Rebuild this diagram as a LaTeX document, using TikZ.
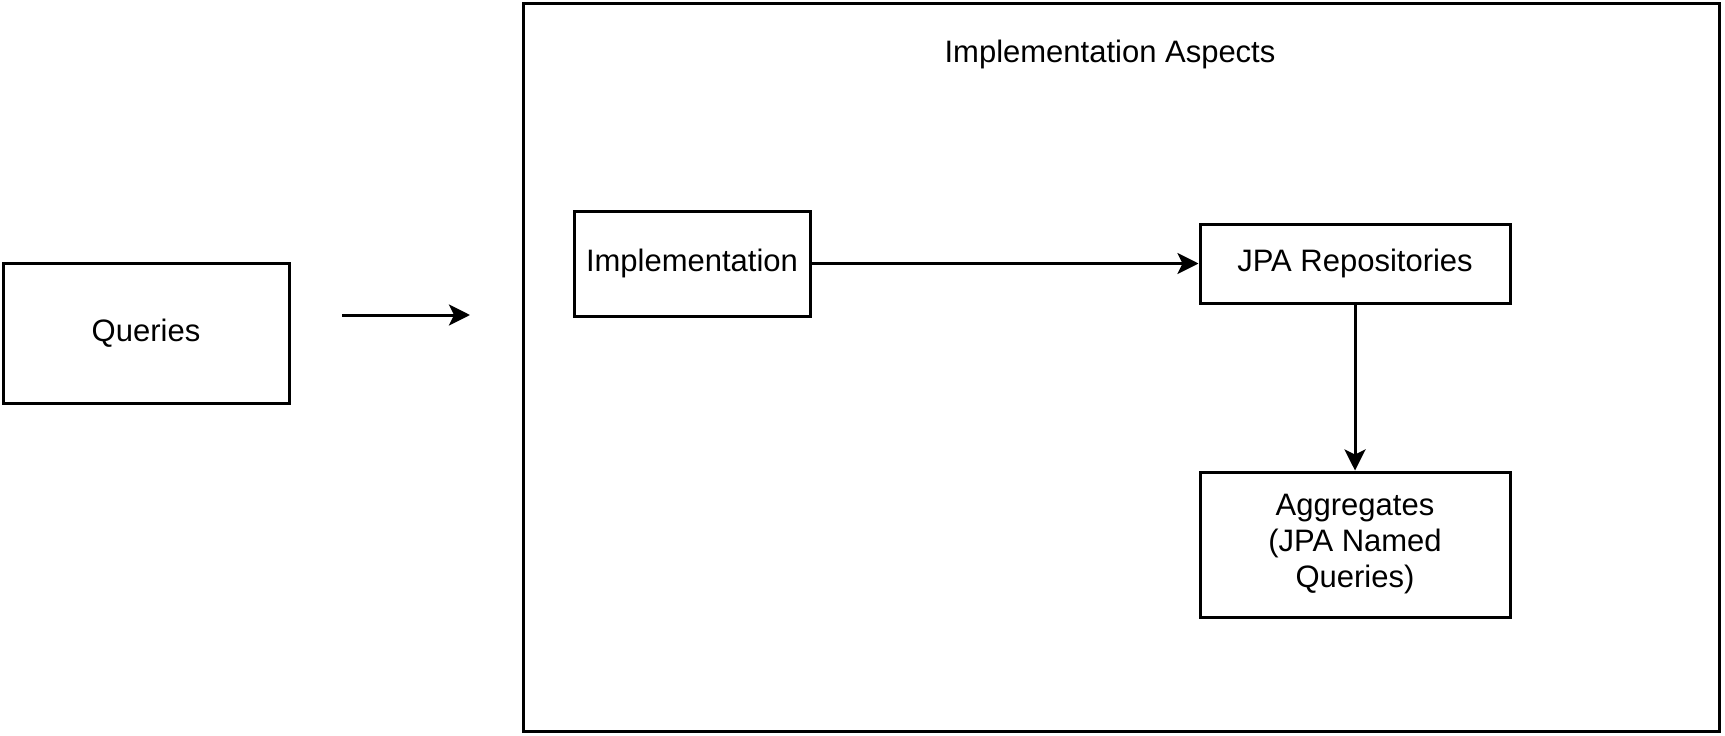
\documentclass[tikz,border=0pt]{standalone}
\usepackage{fontspec}
\setmainfont{Liberation Sans}
\usetikzlibrary{arrows.meta}
\begin{document}
\begin{tikzpicture}[x=1pt,y=-1pt,
  txt/.style={font=\fontsize{31}{36}\selectfont},
  box/.style={draw=black,line width=3pt,rectangle,inner sep=0pt,align=center,txt},
  conn/.style={line width=3pt,-{Stealth[length=21pt,width=21pt,inset=5pt]}}]
\useasboundingbox (0,0) rectangle (1725,736);
\node[box,minimum width=1196pt,minimum height=728pt] (big) at (1121,367) {};
\node[txt,inner sep=0pt,anchor=base] (title) at (1110,62) {Implementation Aspects};
\node[box,minimum width=286pt,minimum height=140pt] (q) at (146,333) {Queries};
\node[box,minimum width=236pt,minimum height=105pt] (impl) at (692,263.5) {Implementation};
\node[box,minimum width=310pt,minimum height=79pt] (jpa) at (1355,263.5) {JPA Repositories};
\node[box,minimum width=310pt,minimum height=145pt] (agg) at (1355,544.5) {Aggregates\\(JPA Named\\Queries)};
\coordinate (qa) at (342,315);
\coordinate (qb) at (470,315);
\draw[conn] (qa) -- (qb);
\draw[conn] (impl.east) -- (jpa.west);
\draw[conn] (jpa.south) -- (agg.north);
\end{tikzpicture}
\end{document}
